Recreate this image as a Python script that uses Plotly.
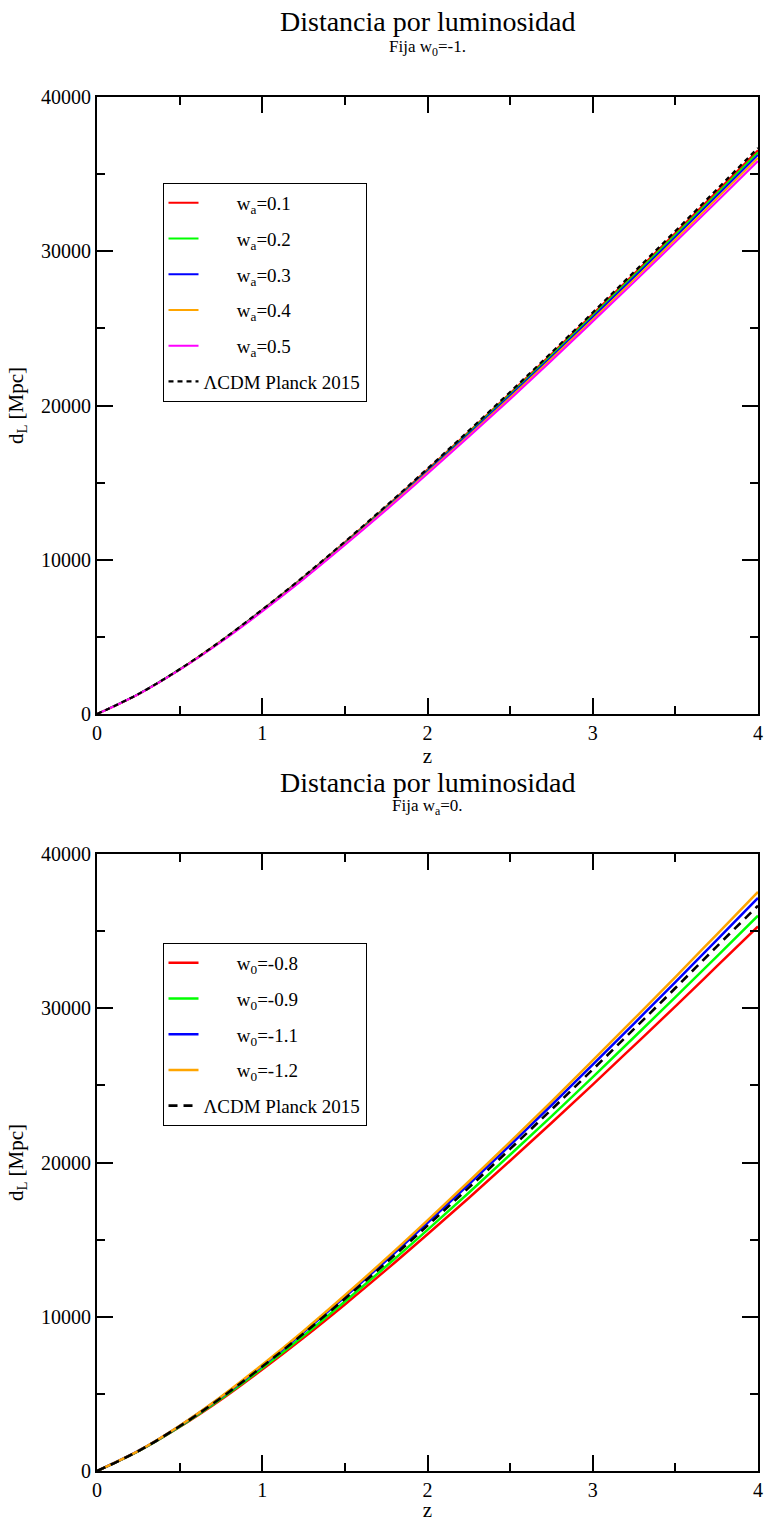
import plotly.graph_objects as go

# ---------------- data ----------------
z = [0, 0.25, 0.5, 0.75, 1.0, 1.25, 1.5, 1.75, 2.0, 2.25, 2.5, 2.75, 3.0, 3.25, 3.5, 3.75, 4.0]

# top panel: w0 = -1 fixed, varying wa
lcdm_top = [0, 1290, 2900, 4740, 6770, 8910, 11170, 13500, 15910, 18370, 20880, 23430, 26030, 28660, 31310, 34000, 36700]
wa_01 = [0, 1290, 2890, 4730, 6750, 8880, 11130, 13450, 15850, 18300, 20800, 23340, 25930, 28540, 31180, 33860, 36550]
wa_02 = [0, 1290, 2890, 4720, 6730, 8850, 11090, 13400, 15790, 18230, 20720, 23240, 25820, 28430, 31060, 33720, 36400]
wa_03 = [0, 1290, 2880, 4700, 6710, 8820, 11050, 13350, 15730, 18160, 20630, 23150, 25720, 28310, 30930, 33580, 36250]
wa_04 = [0, 1280, 2870, 4690, 6680, 8780, 11000, 13290, 15650, 18060, 20520, 23030, 25580, 28160, 30760, 33400, 36050]
wa_05 = [0, 1280, 2870, 4670, 6650, 8740, 10950, 13220, 15570, 17970, 20410, 22900, 25440, 28000, 30590, 33210, 35850]

# bottom panel: wa = 0 fixed, varying w0
lcdm_bot = [0, 1290, 2900, 4740, 6770, 8910, 11170, 13500, 15910, 18370, 20880, 23430, 26030, 28660, 31310, 34000, 36650]
w0_m08 = [0, 1280, 2850, 4620, 6580, 8640, 10800, 13040, 15350, 17700, 20110, 22560, 25050, 27580, 30120, 32710, 35300]
w0_m09 = [0, 1280, 2870, 4680, 6670, 8770, 10990, 13270, 15630, 18040, 20500, 22990, 25540, 28120, 30720, 33350, 36000]
w0_m11 = [0, 1300, 2920, 4780, 6830, 9000, 11290, 13650, 16090, 18580, 21130, 23710, 26340, 29010, 31690, 34420, 37150]
w0_m12 = [0, 1300, 2930, 4810, 6890, 9080, 11390, 13780, 16250, 18770, 21340, 23950, 26620, 29310, 32020, 34780, 37540]

top_names = ["w<sub>a</sub>=0.1", "w<sub>a</sub>=0.2", "w<sub>a</sub>=0.3", "w<sub>a</sub>=0.4", "w<sub>a</sub>=0.5"]
bot_names = ["w<sub>0</sub>=-0.8", "w<sub>0</sub>=-0.9", "w<sub>0</sub>=-1.1", "w<sub>0</sub>=-1.2"]
lcdm_name = "ΛCDM Planck 2015"

x_ticks = [0, 1, 2, 3, 4]
y_ticks = [0, 10000, 20000, 30000, 40000]

# ---------------- styling ----------------
FONT = "Times New Roman, Liberation Serif, DejaVu Serif, serif"
top_colors = ["#ff0000", "#00ff00", "#0000ff", "#ffa500", "#ff00ff"]
bot_colors = ["#ff0000", "#00ff00", "#0000ff", "#ffa500"]
PAD = "\u00a0" * 7

fig = go.Figure()

for i, (vals, name) in enumerate(zip([wa_01, wa_02, wa_03, wa_04, wa_05], top_names)):
    fig.add_trace(go.Scatter(x=z, y=vals, mode="lines", name=PAD + name,
                             line=dict(color=top_colors[i], width=2, shape="spline"),
                             xaxis="x", yaxis="y", legend="legend", legendgroup=f"t{i}"))
fig.add_trace(go.Scatter(x=z, y=lcdm_top, mode="lines", name=lcdm_name,
                         line=dict(color="black", width=2.2, dash="5px,4px", shape="spline"),
                         xaxis="x", yaxis="y", legend="legend", legendgroup="t9"))

for i, (vals, name) in enumerate(zip([w0_m08, w0_m09, w0_m11, w0_m12], bot_names)):
    fig.add_trace(go.Scatter(x=z, y=vals, mode="lines", name=PAD + name,
                             line=dict(color=bot_colors[i], width=2.5, shape="spline"),
                             xaxis="x2", yaxis="y2", legend="legend2", legendgroup=f"b{i}"))
fig.add_trace(go.Scatter(x=z, y=lcdm_bot, mode="lines", name=lcdm_name,
                         line=dict(color="black", width=2.6, dash="9px,6px", shape="spline"),
                         xaxis="x2", yaxis="y2", legend="legend2", legendgroup="b9"))

W, H = 769, 1522
L, R, T, B = 97, 6, 97, 51
ph = H - T - B


def py(pix):
    return (H - B - pix) / ph


def px(pix):
    return (pix - L) / (W - L - R)


tickfont = dict(family=FONT, size=20, color="black")


def xaxis(domain_anchor):
    return dict(range=[0, 4], tickvals=x_ticks, ticktext=[str(v) for v in x_ticks],
                ticks="inside", ticklen=16, tickwidth=1.5, tickcolor="black",
                showline=True, linewidth=2, linecolor="black", mirror="ticks",
                showgrid=False, zeroline=False, anchor=domain_anchor,
                minor=dict(dtick=0.5, tick0=0, ticks="inside", ticklen=8, tickwidth=1.5,
                           tickcolor="black", showgrid=False),
                tickfont=tickfont,
                title=dict(text="z", font=dict(family=FONT, size=21, color="black"), standoff=0))


def yaxis(domain, anchor):
    return dict(range=[0, 40000], domain=domain, tickvals=y_ticks, ticktext=[str(v) for v in y_ticks],
                ticks="inside", ticklen=16, tickwidth=1.5, tickcolor="black",
                showline=True, linewidth=2, linecolor="black", mirror="ticks",
                showgrid=False, zeroline=False, anchor=anchor,
                minor=dict(dtick=5000, tick0=0, ticks="inside", ticklen=8, tickwidth=1.5,
                           tickcolor="black", showgrid=False),
                tickfont=tickfont,
                title=dict(text="d<sub>L</sub> [Mpc]", font=dict(family=FONT, size=21, color="black"), standoff=12))


legend_common = dict(bgcolor="white", bordercolor="black", borderwidth=1,
                     font=dict(family=FONT, size=19, color="black"),
                     xanchor="left", yanchor="top", tracegroupgap=8, itemwidth=30,
                     traceorder="grouped")

fig.update_layout(
    width=W, height=H,
    margin=dict(l=L, r=R, t=T, b=B),
    paper_bgcolor="white", plot_bgcolor="white",
    font=dict(family=FONT, color="black"),
    showlegend=True,
    xaxis=xaxis("y"),
    yaxis=yaxis([py(714), 1.0], "x"),
    xaxis2=xaxis("y2"),
    yaxis2=yaxis([0.0, py(854)], "x2"),
    legend=dict(x=px(163), y=py(183), **legend_common),
    legend2=dict(x=px(163), y=py(943), **legend_common),
    annotations=[
        dict(text="Distancia por luminosidad", xref="paper", yref="paper", x=0.5, y=py(22),
             xanchor="center", yanchor="middle", showarrow=False,
             font=dict(family=FONT, size=28, color="black")),
        dict(text="Fija w<sub>0</sub>=-1.", xref="paper", yref="paper", x=0.5, y=py(48),
             xanchor="center", yanchor="middle", showarrow=False,
             font=dict(family=FONT, size=17, color="black")),
        dict(text="Distancia por luminosidad", xref="paper", yref="paper", x=0.5, y=py(782),
             xanchor="center", yanchor="middle", showarrow=False,
             font=dict(family=FONT, size=28, color="black")),
        dict(text="Fija w<sub>a</sub>=0.", xref="paper", yref="paper", x=0.5, y=py(807),
             xanchor="center", yanchor="middle", showarrow=False,
             font=dict(family=FONT, size=17, color="black")),
    ],
)

fig.write_html("out.html")
